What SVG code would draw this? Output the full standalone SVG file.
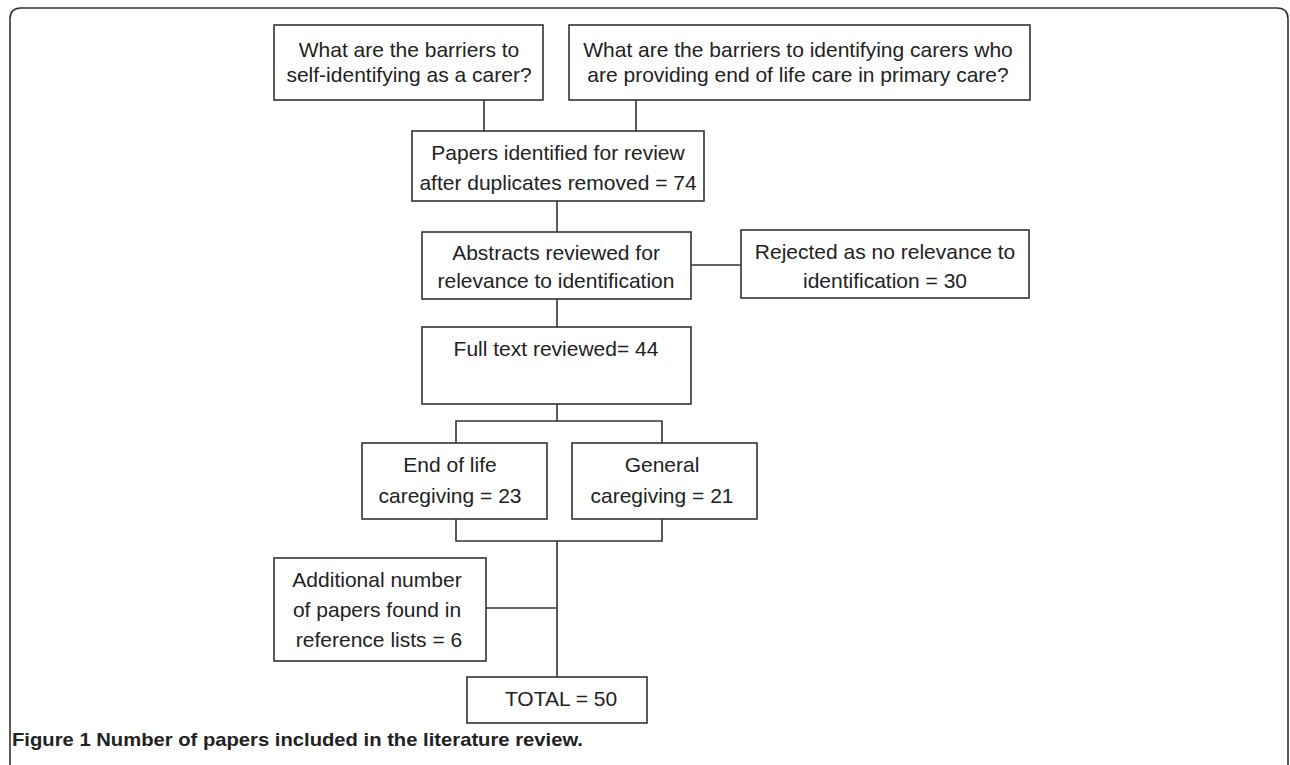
<svg xmlns="http://www.w3.org/2000/svg" width="1290" height="765" viewBox="0 0 1290 765">
<style>
.box{fill:#fff;stroke:#333;stroke-width:1.6}
.t{font-family:"Liberation Sans",Arial,sans-serif;font-size:21px;fill:#222;text-anchor:middle}
.c{fill:none;stroke:#333;stroke-width:1.6}
.cap{font-family:"Liberation Sans",Arial,sans-serif;font-size:19px;font-weight:bold;fill:#222}
</style>
<rect width="1290" height="765" fill="#fff"/>
<path d="M10,765 V19 Q10,8 21,8 H1277 Q1288,8 1288,19 V765" fill="none" stroke="#333" stroke-width="1.6"/>
<g id="connectors">
<path class="c" d="M484,100 V131 M636,100 V131"/>
<path class="c" d="M557,201 V232"/>
<path class="c" d="M691,265 H741"/>
<path class="c" d="M557,299 V327"/>
<path class="c" d="M557,404 V421 M456,443 V421 H662 V443"/>
<path class="c" d="M456,519 V541 H662 V519 M557,541 V677"/>
<path class="c" d="M486,608 H557"/>
</g>
<g id="q1"><rect class="box" x="274" y="25" width="269" height="75"/>
<text class="t" x="409" y="57">What are the barriers to</text><text class="t" x="409" y="82">self-identifying as a carer?</text></g>
<g id="q2"><rect class="box" x="569" y="25" width="461" height="75"/>
<text class="t" x="798" y="57">What are the barriers to identifying carers who</text><text class="t" x="798" y="82">are providing end of life care in primary care?</text></g>
<g id="papers"><rect class="box" x="412" y="131" width="292" height="70"/>
<text class="t" x="558" y="160">Papers identified for review</text><text class="t" x="558" y="190">after duplicates removed = 74</text></g>
<g id="abstracts"><rect class="box" x="422" y="232" width="269" height="67"/>
<text class="t" x="556" y="260">Abstracts reviewed for</text><text class="t" x="556" y="288">relevance to identification</text></g>
<g id="rejected"><rect class="box" x="741" y="230" width="288" height="68"/>
<text class="t" x="885" y="259">Rejected as no relevance to</text><text class="t" x="885" y="288">identification = 30</text></g>
<g id="fulltext"><rect class="box" x="422" y="327" width="269" height="77"/>
<text class="t" x="556" y="356">Full text reviewed= 44</text></g>
<g id="eol"><rect class="box" x="362" y="443" width="185" height="76"/>
<text class="t" x="450" y="472">End of life</text><text class="t" x="450" y="503">caregiving = 23</text></g>
<g id="general"><rect class="box" x="572" y="443" width="185" height="76"/>
<text class="t" x="662" y="472">General</text><text class="t" x="662" y="503">caregiving = 21</text></g>
<g id="additional"><rect class="box" x="274" y="558" width="212" height="103"/>
<text class="t" x="377" y="587">Additional number</text><text class="t" x="377" y="617">of papers found in</text><text class="t" x="379" y="647">reference lists = 6</text></g>
<g id="total"><rect class="box" x="467" y="677" width="180" height="46"/>
<text class="t" x="561" y="706">TOTAL = 50</text></g>
<text class="cap" x="12" y="746" textLength="571" lengthAdjust="spacingAndGlyphs">Figure 1 Number of papers included in the literature review.</text>
</svg>
